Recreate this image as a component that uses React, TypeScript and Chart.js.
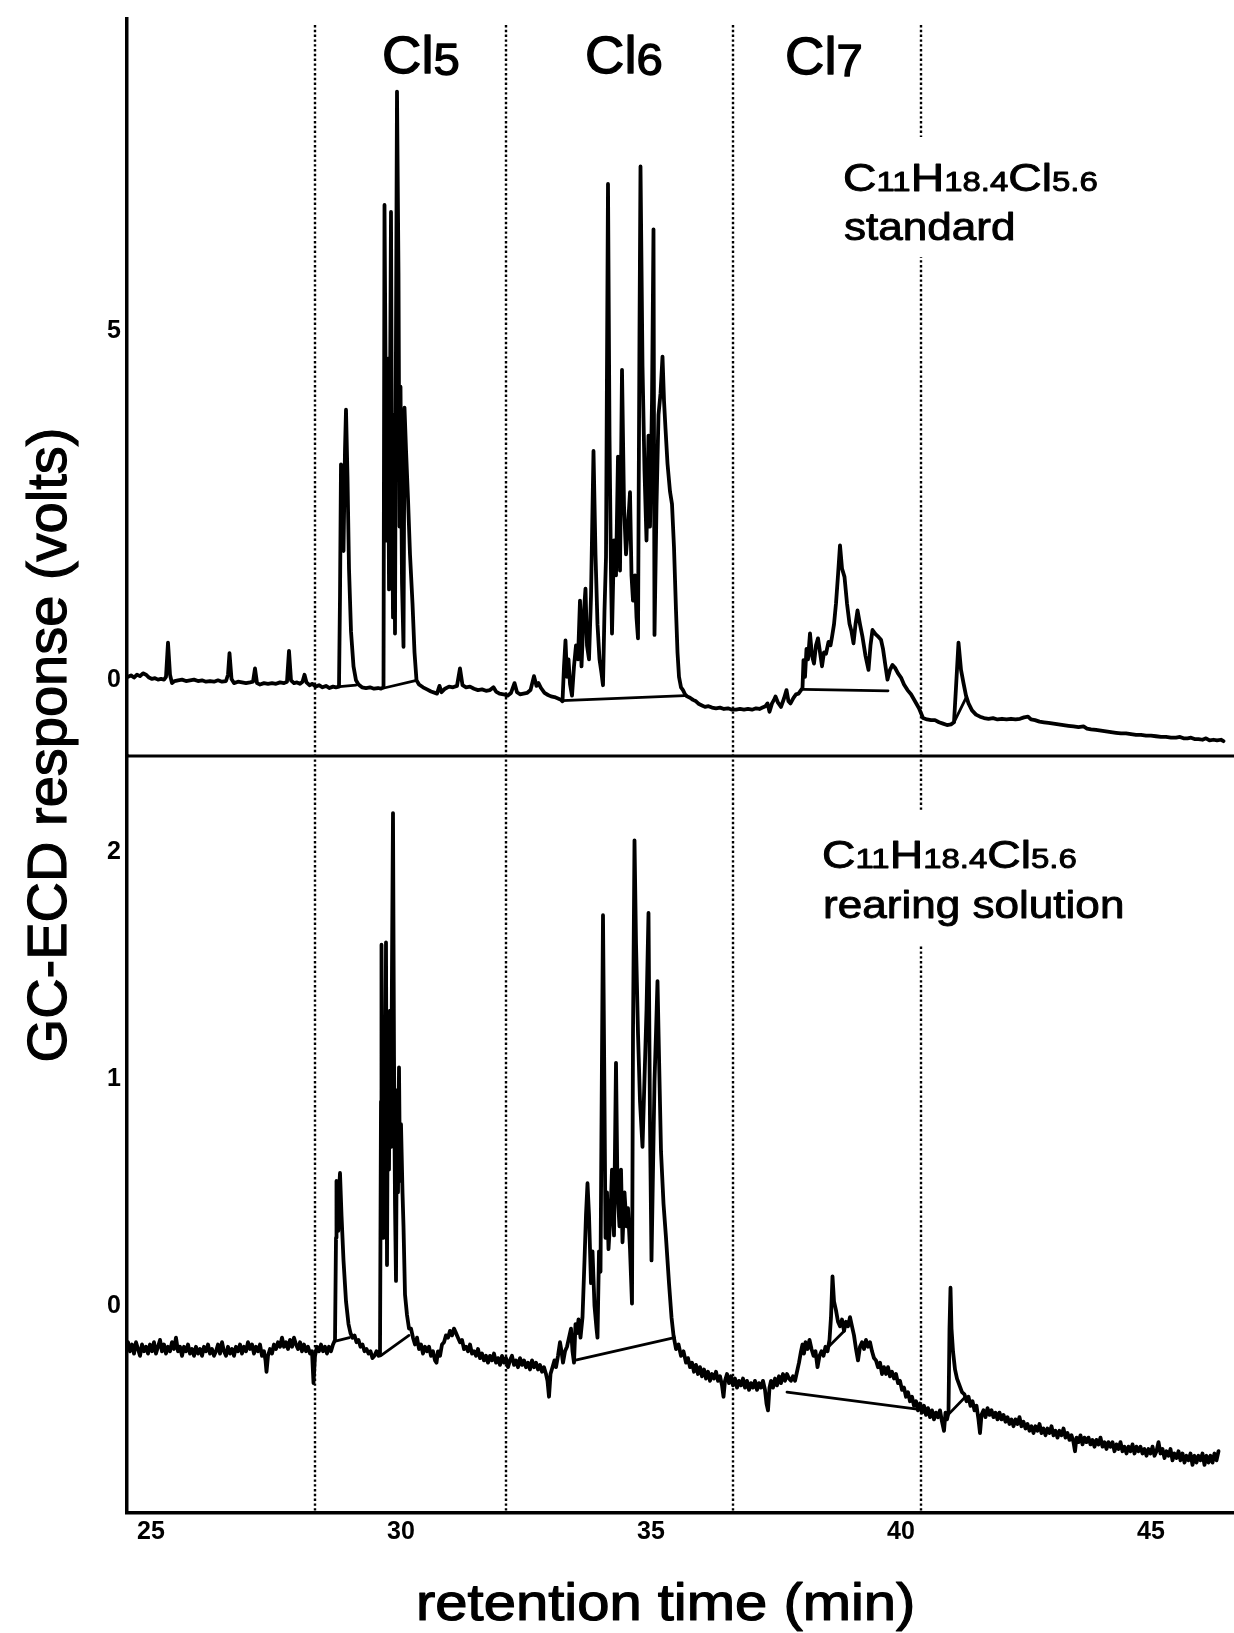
import React, { useEffect, useRef } from 'react';
import { Chart, registerables } from 'chart.js';

Chart.register(...registerables);

const FONT = '"Liberation Sans", Arial, Helvetica, sans-serif';

// ---- axis ranges and ticks ----
const xRange = [24.52, 46.66];
const topRange = [-1.083, 9.466];
const bottomRange = [-0.912, 2.421];
const xTickValues = [25, 30, 35, 40, 45];
const topTickValues = [0, 5];
const bottomTickValues = [0, 1, 2];
// dotted boundaries between chlorine-number windows (min)
const sectionBounds = [28.28, 32.1, 36.64, 40.39];

// ---- standard (upper) chromatogram: [time min, volts] ----
const topTrace: [number, number][] = [
  [24.54,0.05],[24.6,0.07],[24.66,0.04],[24.72,0.08],[24.78,0.06],[24.84,0.1],[24.9,0.08],[24.96,0.04],[25.02,0.02],[25.08,0.03],
  [25.14,0.01],[25.2,0.02],[25.26,0.01],[25.3,0.05],[25.34,0.54],[25.38,0.08],[25.42,-0.04],[25.47,-0.01],[25.54,0.0],[25.62,0.01],
  [25.7,-0.01],[25.78,0.0],[25.86,0.01],[25.94,-0.01],[26.02,0.0],[26.1,-0.02],[26.18,-0.01],[26.26,-0.02],[26.34,0.0],[26.42,-0.02],
  [26.5,-0.01],[26.54,0.08],[26.57,0.39],[26.61,0.02],[26.66,-0.04],[26.74,-0.02],[26.82,-0.03],[26.9,-0.04],[26.98,-0.03],[27.04,-0.02],
  [27.08,0.17],[27.12,-0.04],[27.18,-0.06],[27.26,-0.04],[27.34,-0.05],[27.42,-0.04],[27.5,-0.05],[27.58,-0.03],[27.66,-0.04],[27.72,-0.02],
  [27.76,0.42],[27.8,0.0],[27.86,-0.04],[27.92,-0.03],[27.98,-0.05],[28.03,-0.02],[28.07,0.08],[28.11,-0.03],[28.17,-0.07],[28.23,-0.05],
  [28.29,-0.09],[28.36,-0.07],[28.43,-0.1],[28.5,-0.08],[28.57,-0.11],[28.64,-0.09],[28.7,-0.1],[28.76,-0.09],
  [28.78,1.2],[28.8,3.09],[28.83,2.2],[28.85,1.85],[28.88,3.3],[28.9,3.87],[28.93,2.9],[28.96,1.6],[29.0,0.7],[29.05,0.2],
  [29.1,0.0],[29.15,-0.06],[29.22,-0.1],[29.3,-0.11],[29.38,-0.1],[29.46,-0.12],[29.54,-0.11],[29.6,-0.12],[29.65,-0.1],
  [29.67,6.8],[29.7,3.5],[29.72,2.0],[29.74,4.6],[29.76,1.3],[29.8,6.7],[29.82,2.8],[29.84,0.9],[29.86,3.8],[29.88,0.67],
  [29.9,5.0],[29.92,8.42],[29.95,5.8],[29.97,2.2],[29.99,4.2],[30.02,1.4],[30.05,0.48],[30.07,3.9],[30.1,3.3],[30.14,2.6],
  [30.18,1.8],[30.23,1.1],[30.27,0.4],[30.31,0.0],
  [30.36,-0.06],[30.44,-0.1],[30.52,-0.13],[30.6,-0.16],[30.68,-0.18],[30.72,-0.19],[30.77,-0.08],[30.81,-0.17],[30.88,-0.12],[30.96,-0.09],
  [31.04,-0.1],[31.12,-0.08],[31.18,0.17],[31.23,-0.07],[31.3,-0.1],[31.38,-0.09],[31.46,-0.12],[31.54,-0.14],[31.62,-0.13],[31.7,-0.15],
  [31.78,-0.14],[31.85,-0.1],[31.9,-0.16],[31.97,-0.19],[32.05,-0.2],[32.13,-0.22],[32.2,-0.18],[32.27,-0.04],[32.32,-0.17],[32.38,-0.2],
  [32.45,-0.19],[32.52,-0.18],[32.59,-0.14],[32.66,0.06],[32.71,-0.08],[32.75,-0.04],[32.8,-0.11],[32.87,-0.18],[32.94,-0.21],[33.0,-0.23],
  [33.07,-0.24],[33.14,-0.26],[33.2,-0.28],
  [33.23,-0.3],[33.26,0.2],[33.29,0.57],[33.32,0.05],[33.35,0.3],[33.38,-0.05],[33.42,-0.22],[33.46,0.2],[33.5,0.5],[33.54,0.3],
  [33.58,1.14],[33.61,0.2],[33.65,0.9],[33.69,1.31],[33.72,0.5],[33.76,0.3],[33.8,1.2],[33.85,3.28],[33.89,1.8],[33.93,0.8],
  [33.97,0.3],[34.01,0.1],[34.04,-0.07],[34.07,1.0],[34.1,1.76],[34.12,4.5],[34.14,7.1],[34.17,3.5],[34.2,1.5],[34.22,0.67],
  [34.26,2.0],[34.3,1.5],[34.34,3.2],[34.38,1.57],[34.42,4.44],[34.46,2.5],[34.5,1.8],[34.54,2.2],[34.58,2.69],[34.61,1.5],
  [34.64,1.14],[34.68,1.5],[34.71,0.9],[34.74,0.6],[34.77,5.0],[34.79,7.35],[34.83,4.5],[34.87,3.0],[34.91,2.0],[34.95,3.5],
  [34.98,2.2],[35.02,4.0],[35.05,6.45],[35.07,0.65],[35.11,2.5],[35.15,3.8],[35.19,4.1],[35.23,4.63],[35.26,4.0],[35.29,3.6],
  [35.33,3.1],[35.38,2.7],[35.42,2.52],[35.46,1.9],[35.5,1.0],[35.53,0.4],[35.56,0.05],[35.6,-0.1],[35.64,-0.14],[35.68,-0.2],
  [35.72,-0.23],[35.78,-0.25],[35.84,-0.28],
  [35.9,-0.3],[35.96,-0.34],[36.02,-0.36],[36.08,-0.38],[36.15,-0.37],[36.22,-0.39],[36.3,-0.4],[36.38,-0.39],[36.46,-0.41],[36.54,-0.4],
  [36.62,-0.42],[36.7,-0.42],[36.78,-0.41],[36.86,-0.42],[36.94,-0.41],[37.02,-0.42],[37.1,-0.4],[37.17,-0.41],[37.23,-0.39],[37.29,-0.37],
  [37.33,-0.33],[37.37,-0.45],[37.42,-0.33],[37.46,-0.28],[37.49,-0.23],[37.54,-0.32],[37.6,-0.38],[37.66,-0.26],[37.71,-0.14],[37.75,-0.3],
  [37.79,-0.33],[37.85,-0.25],[37.9,-0.2],[37.95,-0.19],[38.0,-0.14],[38.03,-0.11],
  [38.05,0.29],[38.08,0.05],[38.11,0.45],[38.14,0.3],[38.18,0.67],[38.22,0.35],[38.26,0.24],[38.3,0.5],[38.34,0.6],[38.38,0.4],
  [38.42,0.2],[38.46,0.4],[38.5,0.38],[38.55,0.55],[38.59,0.5],[38.62,0.62],[38.66,0.8],[38.7,1.1],[38.74,1.5],[38.78,1.93],
  [38.82,1.6],[38.87,1.48],[38.92,1.1],[38.97,0.81],[39.01,0.7],[39.05,0.53],[39.09,0.8],[39.13,1.0],[39.18,0.8],[39.23,0.62],
  [39.29,0.35],[39.35,0.15],[39.39,0.5],[39.43,0.72],[39.49,0.66],[39.55,0.62],[39.6,0.58],[39.64,0.45],[39.69,0.2],[39.73,0.01],
  [39.78,0.15],[39.83,0.22],[39.88,0.18],[39.94,0.1],[40.0,0.04],[40.06,-0.06],[40.13,-0.14],[40.2,-0.2],[40.28,-0.3],[40.36,-0.4],
  [40.44,-0.54],[40.52,-0.56],[40.6,-0.57],[40.68,-0.57],[40.76,-0.6],[40.84,-0.62],[40.92,-0.64],[41.0,-0.63],[41.06,-0.6],[41.1,-0.1],
  [41.15,0.54],[41.2,0.15],[41.25,-0.04],[41.3,-0.22],[41.35,-0.33],[41.42,-0.43],[41.5,-0.49],[41.58,-0.52],[41.66,-0.54],[41.75,-0.55],
  [41.84,-0.54],[41.93,-0.56],[42.02,-0.55],[42.11,-0.56],[42.2,-0.55],[42.29,-0.56],[42.38,-0.55],[42.46,-0.53],[42.54,-0.52],[42.6,-0.56],
  [42.68,-0.57],[42.77,-0.59],[42.86,-0.6],[42.95,-0.61],[43.05,-0.62],[43.15,-0.63],[43.25,-0.64],[43.35,-0.65],[43.45,-0.66],[43.55,-0.67],
  [43.65,-0.66],[43.72,-0.69],[43.8,-0.7],[43.9,-0.71],[44.0,-0.72],[44.1,-0.73],[44.2,-0.74],[44.3,-0.75],[44.4,-0.76],[44.5,-0.76],
  [44.6,-0.77],[44.7,-0.78],[44.8,-0.78],[44.9,-0.79],[45.0,-0.79],[45.1,-0.8],[45.2,-0.81],[45.3,-0.81],[45.4,-0.82],[45.5,-0.82],
  [45.58,-0.81],[45.65,-0.83],[45.73,-0.83],[45.8,-0.82],[45.87,-0.84],[45.95,-0.84],[46.03,-0.85],[46.1,-0.83],[46.17,-0.86],[46.25,-0.85],
  [46.32,-0.86],[46.4,-0.85],[46.45,-0.87],
];

// ---- rearing solution (lower) chromatogram: [time min, volts] ----
const bottomTrace: [number, number][] = [
  [24.54,-0.16],[24.58,-0.2],[24.62,-0.17],[24.66,-0.21],[24.7,-0.16],[24.74,-0.19],[24.78,-0.22],[24.82,-0.17],[24.86,-0.2],[24.9,-0.18],
  [24.94,-0.21],[24.98,-0.17],[25.02,-0.2],[25.06,-0.16],[25.1,-0.21],[25.14,-0.18],[25.18,-0.15],[25.22,-0.2],[25.26,-0.17],[25.3,-0.21],
  [25.34,-0.18],[25.38,-0.2],[25.42,-0.16],[25.46,-0.19],[25.5,-0.14],[25.54,-0.2],[25.58,-0.18],[25.62,-0.22],[25.66,-0.18],[25.7,-0.2],
  [25.74,-0.17],[25.78,-0.21],[25.82,-0.19],[25.86,-0.22],[25.9,-0.18],[25.94,-0.21],[25.98,-0.19],[26.02,-0.22],[26.06,-0.18],[26.1,-0.2],
  [26.14,-0.17],[26.18,-0.21],[26.22,-0.19],[26.26,-0.22],[26.3,-0.2],[26.34,-0.17],[26.38,-0.21],[26.42,-0.16],[26.46,-0.2],[26.5,-0.22],
  [26.54,-0.18],[26.58,-0.21],[26.62,-0.19],[26.66,-0.22],[26.7,-0.18],[26.74,-0.2],[26.78,-0.17],[26.82,-0.21],[26.86,-0.18],[26.9,-0.2],
  [26.94,-0.16],[26.98,-0.19],[27.02,-0.17],[27.06,-0.21],[27.1,-0.18],[27.14,-0.2],[27.18,-0.17],[27.22,-0.22],[27.26,-0.2],[27.29,-0.24],
  [27.31,-0.29],[27.34,-0.22],[27.38,-0.19],[27.42,-0.21],[27.46,-0.17],[27.5,-0.19],[27.54,-0.16],[27.58,-0.18],[27.62,-0.14],[27.66,-0.18],
  [27.7,-0.16],[27.74,-0.19],[27.78,-0.15],[27.82,-0.18],[27.86,-0.14],[27.9,-0.17],[27.94,-0.19],[27.98,-0.16],[28.02,-0.2],[28.06,-0.17],
  [28.1,-0.2],[28.14,-0.18],[28.18,-0.21],[28.22,-0.2],[28.25,-0.34],[28.28,-0.22],[28.32,-0.18],[28.36,-0.2],[28.4,-0.17],[28.44,-0.2],
  [28.48,-0.18],[28.52,-0.21],[28.56,-0.18],[28.6,-0.2],[28.64,-0.17],
  [28.68,-0.15],[28.7,0.3],[28.71,0.55],[28.73,0.38],[28.745,0.33],[28.76,0.5],[28.78,0.585],[28.81,0.4],[28.85,0.2],[28.9,0.02],
  [28.95,-0.08],[28.99,-0.12],[29.03,-0.14],[29.07,-0.13],[29.11,-0.16],[29.15,-0.15],[29.19,-0.18],[29.23,-0.17],[29.27,-0.2],[29.31,-0.19],
  [29.35,-0.21],[29.39,-0.2],[29.43,-0.23],[29.47,-0.22],[29.51,-0.2],[29.55,-0.22],[29.58,-0.21],
  [29.6,0.9],[29.61,1.59],[29.63,0.8],[29.65,0.3],[29.67,1.1],[29.68,0.5],[29.7,1.6],[29.72,0.18],[29.74,1.2],[29.76,0.6],
  [29.78,1.3],[29.8,0.7],[29.82,1.5],[29.84,2.17],[29.86,1.1],[29.88,0.45],[29.9,0.11],[29.92,0.95],[29.94,0.5],[29.96,1.05],
  [29.98,0.55],[30.0,0.8],[30.03,0.5],[30.05,0.35],[30.08,0.05],[30.12,-0.04],[30.16,-0.1],[30.2,-0.1],
  [30.24,-0.14],[30.28,-0.17],[30.32,-0.14],[30.36,-0.19],[30.4,-0.17],[30.44,-0.21],[30.48,-0.18],[30.52,-0.2],[30.56,-0.18],[30.6,-0.22],
  [30.64,-0.2],[30.68,-0.24],[30.71,-0.25],[30.74,-0.2],[30.78,-0.22],[30.82,-0.17],[30.86,-0.16],[30.9,-0.13],[30.94,-0.14],[30.98,-0.11],
  [31.02,-0.13],[31.06,-0.1],[31.1,-0.12],[31.14,-0.14],[31.18,-0.16],[31.22,-0.15],[31.26,-0.19],[31.3,-0.18],[31.34,-0.2],[31.38,-0.17],
  [31.42,-0.21],[31.46,-0.2],[31.5,-0.22],[31.54,-0.19],[31.58,-0.23],[31.62,-0.21],[31.66,-0.24],[31.7,-0.22],[31.74,-0.25],[31.78,-0.22],
  [31.82,-0.24],[31.86,-0.21],[31.9,-0.25],[31.94,-0.23],[31.98,-0.26],[32.02,-0.22],[32.06,-0.25],[32.1,-0.23],[32.14,-0.27],[32.18,-0.24],
  [32.22,-0.22],[32.26,-0.26],[32.3,-0.24],[32.34,-0.27],[32.38,-0.23],[32.42,-0.26],[32.46,-0.24],[32.5,-0.27],[32.54,-0.25],[32.58,-0.28],
  [32.62,-0.24],[32.66,-0.27],[32.7,-0.25],[32.74,-0.28],[32.78,-0.26],[32.82,-0.29],[32.86,-0.27],[32.9,-0.3],[32.93,-0.33],[32.96,-0.4],
  [32.99,-0.3],[33.03,-0.27],[33.07,-0.24],[33.1,-0.27],[33.14,-0.22],[33.18,-0.16],[33.21,-0.2],[33.24,-0.25],[33.28,-0.2],[33.32,-0.18],
  [33.36,-0.14],[33.4,-0.1],[33.43,-0.2],[33.46,-0.25],
  [33.49,-0.08],[33.52,-0.12],[33.55,-0.06],[33.59,-0.14],[33.63,-0.05],[33.67,0.2],[33.7,0.4],[33.73,0.54],[33.76,0.4],[33.8,0.1],
  [33.83,0.24],[33.87,0.0],[33.91,-0.1],[33.93,-0.14],[33.96,0.24],[33.99,0.15],[34.01,0.8],[34.04,1.72],[34.07,0.9],[34.09,0.3],
  [34.12,0.5],[34.15,0.25],[34.19,0.4],[34.22,0.6],[34.26,0.31],[34.28,0.7],[34.3,1.07],[34.33,0.5],[34.37,0.35],[34.4,0.6],
  [34.43,0.28],[34.47,0.5],[34.51,0.35],[34.54,0.43],[34.58,0.25],[34.62,0.01],[34.64,1.2],[34.67,2.05],[34.7,1.6],[34.74,1.2],
  [34.78,0.9],[34.83,0.7],[34.87,1.0],[34.91,1.3],[34.95,1.73],[34.98,0.8],[35.01,0.2],[35.04,0.6],[35.07,0.99],[35.1,1.2],
  [35.13,1.43],[35.16,1.1],[35.2,0.68],[35.25,0.45],[35.3,0.3],[35.36,0.1],[35.41,-0.05],[35.45,-0.13],[35.5,-0.19],[35.55,-0.17],
  [35.6,-0.22],[35.65,-0.2],[35.7,-0.25],
  [35.74,-0.23],[35.78,-0.27],[35.82,-0.25],[35.86,-0.29],[35.9,-0.26],[35.94,-0.3],[35.98,-0.27],[36.02,-0.31],[36.06,-0.28],[36.1,-0.32],
  [36.14,-0.29],[36.18,-0.33],[36.22,-0.3],[36.26,-0.32],[36.3,-0.29],[36.34,-0.33],[36.38,-0.31],[36.42,-0.35],[36.45,-0.4],[36.48,-0.33],
  [36.52,-0.3],[36.56,-0.34],[36.6,-0.31],[36.64,-0.35],[36.68,-0.32],[36.72,-0.36],[36.76,-0.33],[36.8,-0.35],[36.84,-0.32],[36.88,-0.36],
  [36.92,-0.33],[36.96,-0.37],[37.0,-0.34],[37.04,-0.36],[37.08,-0.33],[37.12,-0.37],[37.16,-0.34],[37.2,-0.36],[37.24,-0.33],[37.28,-0.37],
  [37.31,-0.43],[37.34,-0.46],[37.37,-0.36],[37.4,-0.33],[37.44,-0.36],[37.48,-0.32],[37.52,-0.35],[37.56,-0.31],[37.6,-0.34],[37.64,-0.3],
  [37.68,-0.33],[37.72,-0.3],[37.76,-0.32],[37.8,-0.33],[37.84,-0.31],[37.88,-0.33],[37.92,-0.29],[37.96,-0.25],[38.0,-0.2],[38.03,-0.17],
  [38.06,-0.21],[38.09,-0.16],[38.13,-0.19],[38.17,-0.15],[38.21,-0.19],[38.25,-0.22],[38.29,-0.2],[38.33,-0.27],[38.37,-0.22],[38.41,-0.2],
  [38.45,-0.22],[38.49,-0.18],[38.53,-0.2],[38.57,-0.15],[38.6,-0.05],[38.63,0.13],[38.66,0.02],[38.7,-0.02],[38.74,-0.07],[38.78,-0.09],
  [38.82,-0.06],[38.86,-0.11],[38.9,-0.07],[38.94,-0.09],[38.98,-0.05],[39.02,-0.09],[39.06,-0.13],[39.1,-0.19],[39.14,-0.24],[39.18,-0.18],
  [39.22,-0.16],[39.26,-0.19],[39.3,-0.15],[39.34,-0.18],[39.38,-0.16],[39.42,-0.2],[39.46,-0.23],[39.5,-0.24],[39.54,-0.27],[39.58,-0.25],
  [39.62,-0.3],[39.66,-0.27],[39.7,-0.3],[39.74,-0.27],[39.78,-0.31],[39.82,-0.29],[39.86,-0.32],[39.9,-0.3],[39.94,-0.34],[39.98,-0.33],
  [40.02,-0.37],[40.06,-0.36],[40.1,-0.4],[40.14,-0.38],[40.18,-0.42],[40.22,-0.4],[40.26,-0.44],[40.3,-0.42],[40.34,-0.46],[40.38,-0.43],
  [40.42,-0.47],[40.46,-0.44],[40.5,-0.48],[40.54,-0.45],[40.58,-0.49],[40.62,-0.46],[40.66,-0.5],[40.7,-0.47],[40.74,-0.49],[40.78,-0.46],
  [40.82,-0.51],[40.86,-0.55],[40.89,-0.47],[40.92,-0.5],[40.95,-0.47],[40.97,-0.1],[40.99,0.08],[41.01,-0.1],[41.04,-0.2],[41.08,-0.28],
  [41.12,-0.32],[41.17,-0.35],[41.22,-0.38],[41.27,-0.39],[41.31,-0.42],[41.35,-0.4],[41.39,-0.44],[41.43,-0.42],[41.47,-0.46],[41.51,-0.44],
  [41.55,-0.5],[41.58,-0.56],[41.61,-0.48],[41.65,-0.46],[41.69,-0.49],[41.73,-0.45],[41.77,-0.48],[41.81,-0.46],[41.85,-0.49],[41.89,-0.47],
  [41.93,-0.5],[41.97,-0.47],[42.01,-0.5],[42.05,-0.48],[42.09,-0.51],[42.13,-0.49],[42.17,-0.52],[42.21,-0.5],[42.25,-0.53],[42.29,-0.5],
  [42.33,-0.52],[42.37,-0.49],[42.41,-0.53],[42.45,-0.51],[42.49,-0.54],[42.53,-0.52],[42.57,-0.55],[42.61,-0.53],[42.65,-0.56],[42.69,-0.53],
  [42.73,-0.55],[42.77,-0.52],[42.81,-0.56],[42.85,-0.54],[42.89,-0.57],[42.93,-0.54],[42.97,-0.56],[43.01,-0.53],[43.05,-0.57],[43.09,-0.55],
  [43.13,-0.58],[43.17,-0.55],[43.21,-0.57],[43.25,-0.54],[43.29,-0.58],[43.33,-0.56],[43.37,-0.59],[43.41,-0.57],[43.45,-0.6],[43.48,-0.64],
  [43.51,-0.58],[43.55,-0.6],[43.59,-0.57],[43.63,-0.61],[43.67,-0.58],[43.71,-0.6],[43.75,-0.58],[43.79,-0.61],[43.83,-0.59],[43.87,-0.62],
  [43.91,-0.59],[43.95,-0.61],[43.99,-0.58],[44.03,-0.62],[44.07,-0.6],[44.11,-0.63],[44.15,-0.6],[44.19,-0.62],[44.23,-0.6],[44.27,-0.64],
  [44.31,-0.61],[44.35,-0.63],[44.39,-0.6],[44.43,-0.64],[44.47,-0.62],[44.51,-0.65],[44.55,-0.62],[44.59,-0.64],[44.63,-0.61],[44.67,-0.65],
  [44.71,-0.62],[44.75,-0.64],[44.79,-0.62],[44.83,-0.65],[44.87,-0.63],[44.91,-0.66],[44.95,-0.63],[44.99,-0.65],[45.03,-0.62],[45.07,-0.66],
  [45.11,-0.64],[45.15,-0.6],[45.19,-0.65],[45.23,-0.63],[45.27,-0.67],[45.31,-0.64],[45.35,-0.66],[45.39,-0.63],[45.43,-0.68],[45.47,-0.65],
  [45.51,-0.67],[45.55,-0.64],[45.59,-0.68],[45.63,-0.65],[45.67,-0.69],[45.71,-0.66],[45.75,-0.68],[45.79,-0.65],[45.83,-0.7],[45.87,-0.66],
  [45.91,-0.69],[45.95,-0.66],[45.99,-0.68],[46.03,-0.65],[46.07,-0.7],[46.11,-0.66],[46.15,-0.69],[46.19,-0.66],[46.23,-0.69],[46.27,-0.65],
  [46.31,-0.68],[46.35,-0.64],
];

// ---- integration baselines drawn under peak clusters ----
const topBaselines: [number, number][][] = [
  [[28.77,-0.09],[29.1,-0.07]],
  [[29.66,-0.11],[30.31,0.0]],
  [[33.22,-0.29],[35.68,-0.22]],
  [[38.04,-0.13],[39.74,-0.15]],
  [[41.06,-0.6],[41.3,-0.25]],
];
const bottomBaselines: [number, number][][] = [
  [[28.69,-0.155],[28.97,-0.14]],
  [[29.59,-0.22],[30.16,-0.13]],
  [[33.47,-0.24],[35.47,-0.14]],
  [[37.72,-0.38],[40.32,-0.455]],
  [[38.55,-0.18],[38.87,-0.11]],
  [[40.94,-0.48],[41.29,-0.4]],
];

// ---- text ----
const sectionLabels = [
  { main: 'Cl', sub: '5', x: 382, y: 73 },
  { main: 'Cl', sub: '6', x: 585, y: 73 },
  { main: 'Cl', sub: '7', x: 785, y: 74 },
];
const formulaParts: [string, boolean][] = [['C', false], ['11', true], ['H', false], ['18.4', true], ['Cl', false], ['5.6', true]];
const topSampleName = 'standard';
const bottomSampleName = 'rearing solution';
const xTitle = 'retention time (min)';
const yTitle = 'GC-ECD response (volts)';

function drawParts(ctx: CanvasRenderingContext2D, parts: [string, number, number][], x: number, y: number, stretch: number, weight = 1) {
  ctx.save();
  ctx.translate(x, y);
  ctx.scale(stretch, 1);
  ctx.textAlign = 'left';
  ctx.textBaseline = 'alphabetic';
  ctx.lineWidth = weight;
  ctx.strokeStyle = '#000';
  ctx.lineJoin = 'round';
  let cx = 0;
  for (const [text, size, dy] of parts) {
    ctx.font = `${size}px ${FONT}`;
    ctx.fillText(text, cx, dy);
    if (weight > 0) ctx.strokeText(text, cx, dy);
    cx += ctx.measureText(text).width;
  }
  ctx.restore();
}

const decorPlugin = {
  id: 'decor',
  beforeDatasetsDraw(chart: any) {
    const { ctx, scales } = chart;
    const xs = scales.x;
    const yT = scales.yTop;
    const yB = scales.yBottom;
    ctx.save();
    // dotted window boundaries
    ctx.strokeStyle = '#000';
    ctx.lineWidth = 2.4;
    ctx.setLineDash([2.4, 2.4]);
    for (const t of sectionBounds) {
      const px = Math.round(xs.getPixelForValue(t));
      ctx.beginPath();
      ctx.moveTo(px, 25);
      ctx.lineTo(px, yB.bottom);
      ctx.stroke();
    }
    ctx.setLineDash([]);
    // divider between the two panels
    ctx.strokeStyle = '#000';
    ctx.lineWidth = 3;
    ctx.beginPath();
    ctx.moveTo(xs.left, yT.bottom);
    ctx.lineTo(xs.right, yT.bottom);
    ctx.stroke();
    // label backgrounds
    ctx.fillStyle = '#fff';
    ctx.fillRect(832, 137, 290, 120);
    ctx.fillRect(812, 810, 330, 135);
    ctx.fillStyle = '#000';
    // section labels
    for (const l of sectionLabels) {
      drawParts(ctx, [[l.main, 52, 0], [l.sub, 45, 2]], l.x, l.y, 1.05, 1.3);
    }
    const formula = formulaParts.map(([s, sub]) => [s, sub ? 27 : 38, 0] as [string, number, number]);
    drawParts(ctx, formula, 843, 191, 1.22, 0.9);
    drawParts(ctx, [[topSampleName, 38, 0]], 844, 240, 1.16, 0.9);
    drawParts(ctx, formula, 822, 868, 1.22, 0.9);
    drawParts(ctx, [[bottomSampleName, 38, 0]], 823, 918, 1.16, 0.9);
    // axis titles
    drawParts(ctx, [[xTitle, 52, 0]], 416, 1620, 1.115, 1.2);
    ctx.save();
    ctx.translate(66, 745);
    ctx.rotate(-Math.PI / 2);
    ctx.font = `56px ${FONT}`;
    ctx.textAlign = 'center';
    ctx.textBaseline = 'alphabetic';
    ctx.lineWidth = 1.2;
    ctx.strokeStyle = '#000';
    ctx.fillText(yTitle, 0, 0);
    ctx.strokeText(yTitle, 0, 0);
    ctx.restore();
    ctx.restore();
  },
};

const tickFont = { family: FONT, size: 25, weight: 'bold' as const, lineHeight: 1 };

export default function App() {
  const canvasRef = useRef<HTMLCanvasElement | null>(null);

  useEffect(() => {
    const canvas = canvasRef.current;
    if (!canvas) return;
    const lineSet = (data: [number, number][], axis: string, width: number) => ({
      data: data.map(([x, y]) => ({ x, y })),
      yAxisID: axis,
      borderColor: '#000',
      borderWidth: width,
      pointRadius: 0,
      tension: 0,
      fill: false,
      borderJoinStyle: 'round' as const,
      borderCapStyle: 'round' as const,
    });
    const datasets = [
      lineSet(topTrace, 'yTop', 3.8),
      lineSet(bottomTrace, 'yBottom', 3.8),
      ...topBaselines.map((b) => lineSet(b, 'yTop', 2.8)),
      ...bottomBaselines.map((b) => lineSet(b, 'yBottom', 2.8)),
    ];
    const chart = new Chart(canvas, {
      type: 'line',
      data: { datasets },
      plugins: [decorPlugin],
      options: {
        animation: false,
        responsive: false,
        maintainAspectRatio: false,
        devicePixelRatio: 1,
        events: [],
        layout: { padding: { top: 12, left: 0, right: 0, bottom: 0 } },
        plugins: { legend: { display: false }, tooltip: { enabled: false }, title: { display: false } },
        scales: {
          x: {
            type: 'linear',
            position: 'bottom',
            min: xRange[0],
            max: xRange[1],
            grid: { display: false, drawTicks: false },
            border: { display: true, color: '#000', width: 3.5 },
            ticks: { font: tickFont, color: '#000', padding: 7, maxRotation: 0, autoSkip: false },
            afterBuildTicks: (s: any) => { s.ticks = xTickValues.map((v) => ({ value: v })); },
            afterFit: (s: any) => { s.height = 120; },
          },
          yTop: {
            type: 'linear',
            position: 'left',
            stack: 'panels',
            stackWeight: 740.5,
            weight: 2,
            min: topRange[0],
            max: topRange[1],
            grid: { display: false, drawTicks: false },
            border: { display: true, color: '#000', width: 3.5 },
            ticks: { font: tickFont, color: '#000', padding: 6 },
            afterBuildTicks: (s: any) => { s.ticks = topTickValues.map((v) => ({ value: v })); },
            afterFit: (s: any) => { s.width = 127; },
          },
          yBottom: {
            type: 'linear',
            position: 'left',
            stack: 'panels',
            stackWeight: 760,
            weight: 1,
            min: bottomRange[0],
            max: bottomRange[1],
            grid: { display: false, drawTicks: false },
            border: { display: true, color: '#000', width: 3.5 },
            ticks: { font: tickFont, color: '#000', padding: 6 },
            afterBuildTicks: (s: any) => { s.ticks = bottomTickValues.map((v) => ({ value: v })); },
            afterFit: (s: any) => { s.width = 127; },
          },
        },
      } as any,
    });
    return () => chart.destroy();
  }, []);

  return (
    <div style={{ position: 'absolute', left: 0, top: 0, width: 1234, height: 1633, background: '#fff' }}>
      <canvas ref={canvasRef} width={1234} height={1633} style={{ display: 'block' }} />
    </div>
  );
}
